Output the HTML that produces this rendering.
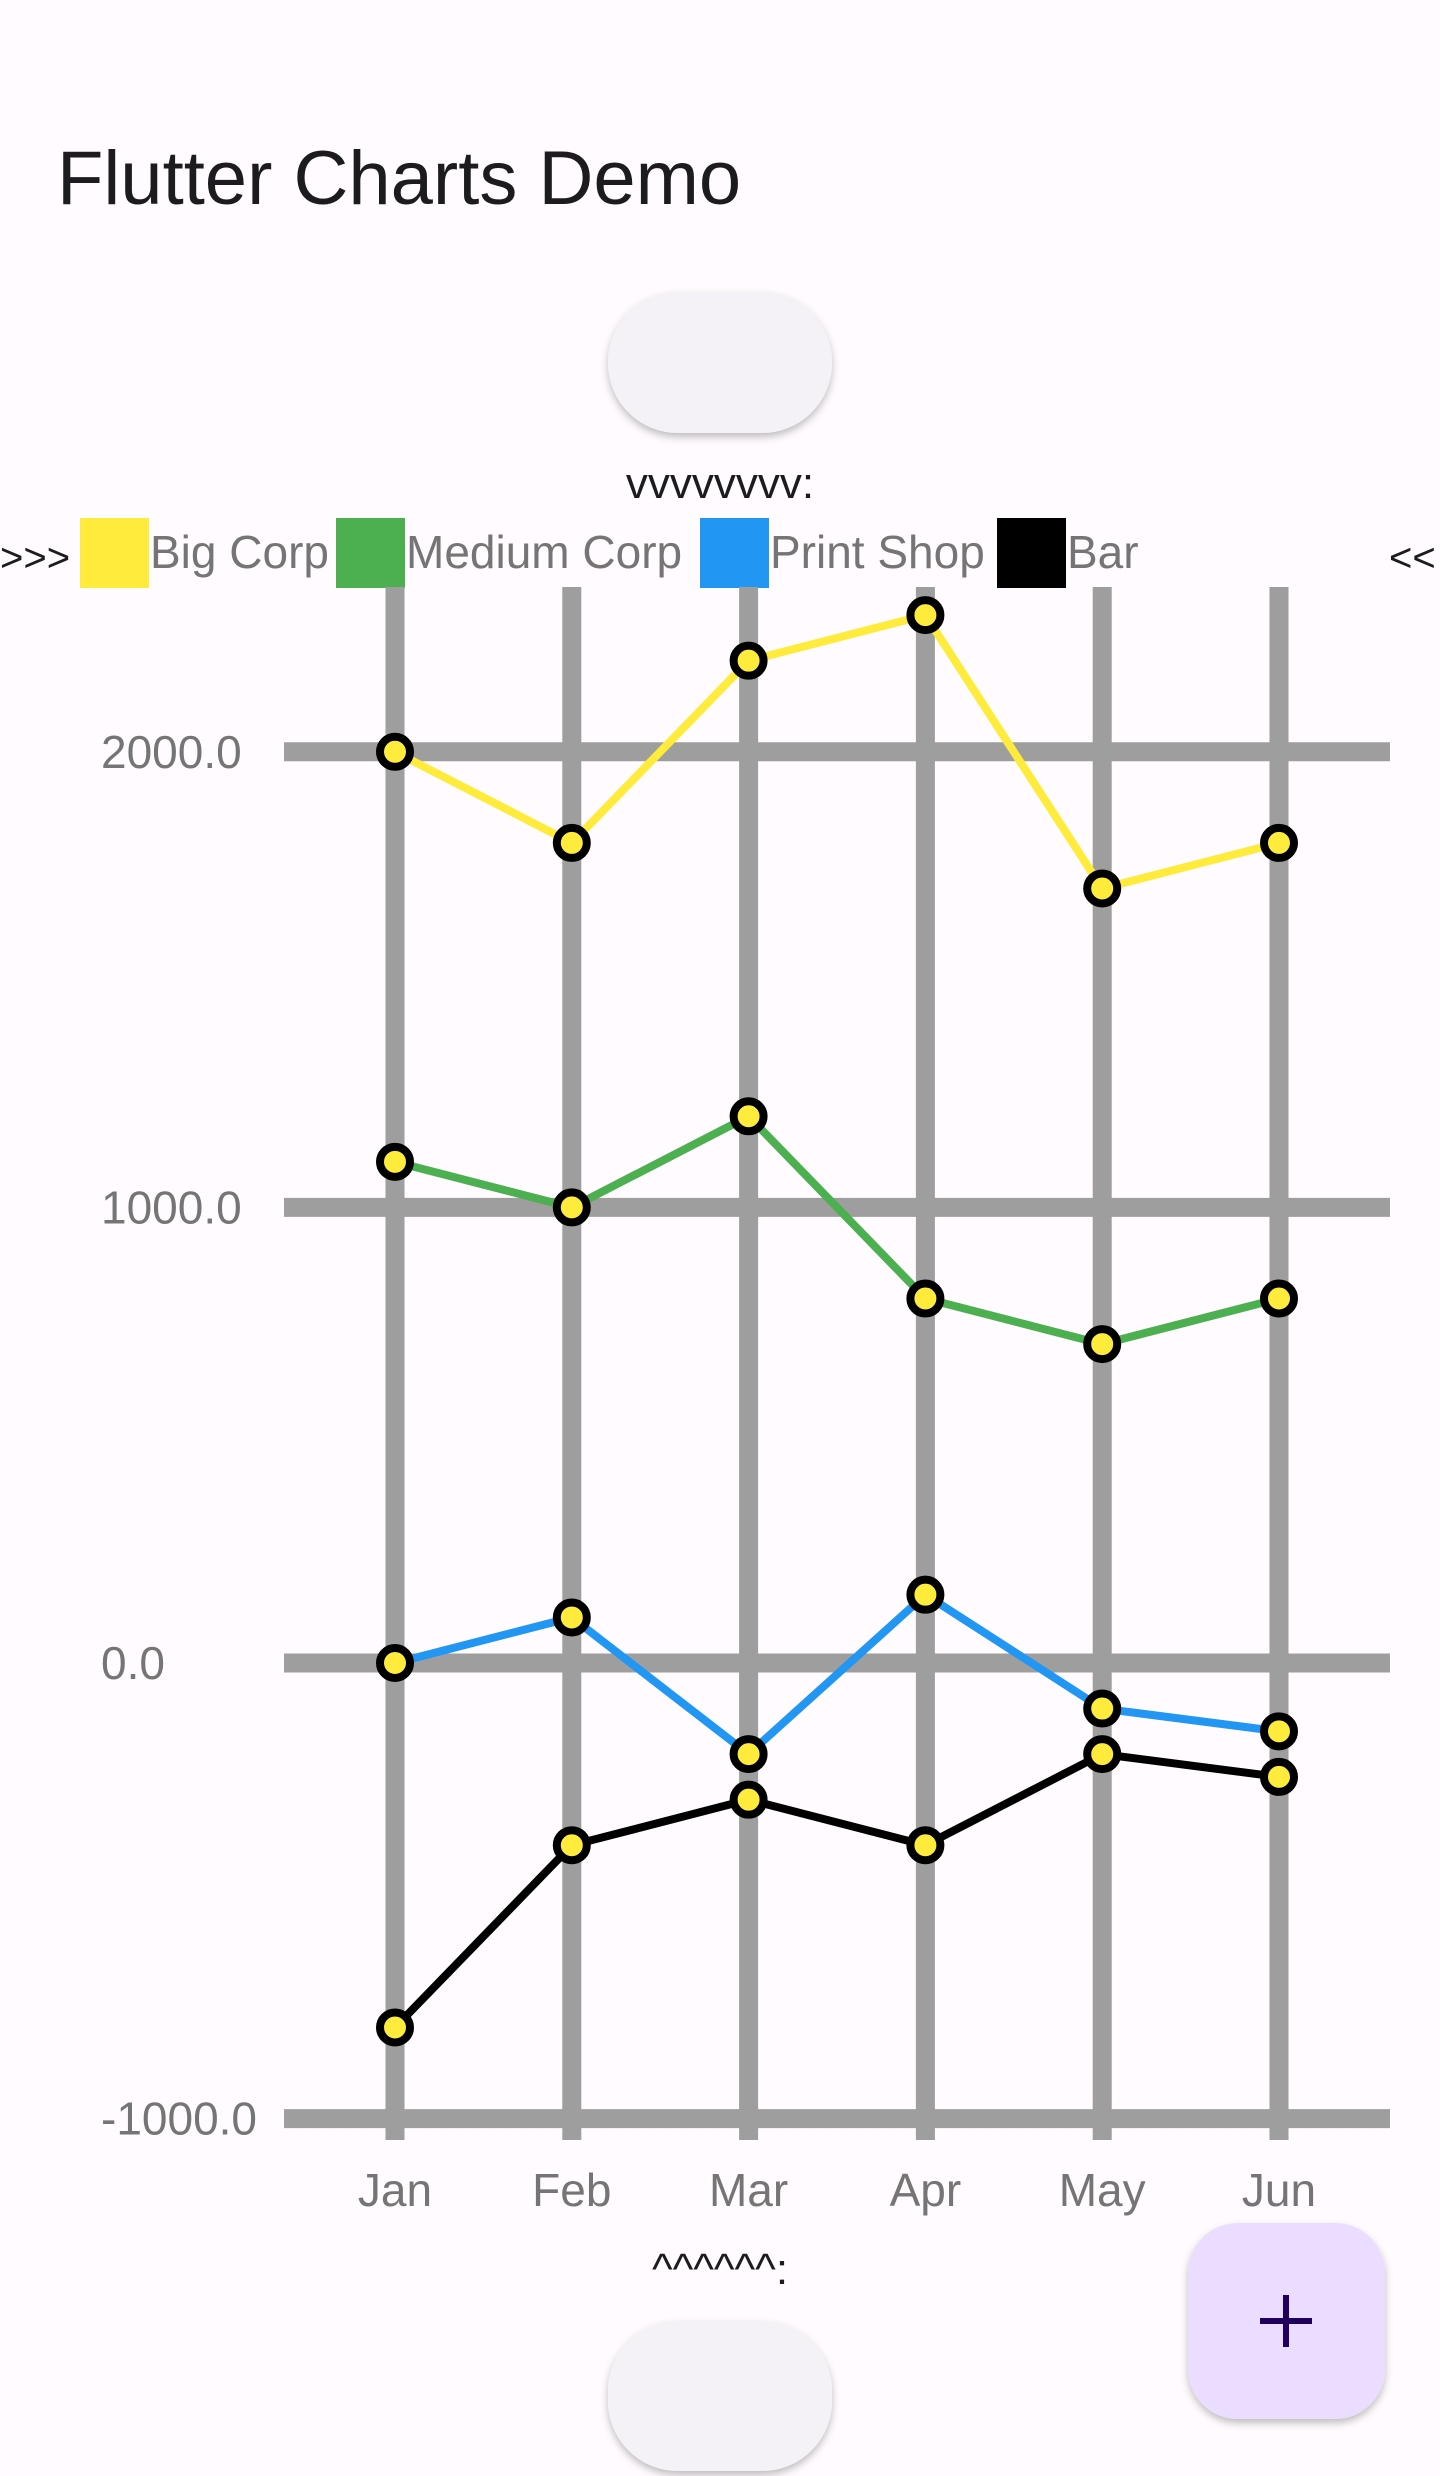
<!DOCTYPE html>
<html><head><meta charset="utf-8">
<style>
html,body{margin:0;padding:0;background:#fffbfe;}
body{width:1440px;height:2476px;overflow:hidden;position:relative;font-family:"Liberation Sans",sans-serif;}
svg{position:absolute;left:0;top:0;}
</style></head>
<body>
<svg id="chart" width="1440" height="2476" viewBox="0 0 1440 2476">
  <defs>
    <filter id="sh" x="-20%" y="-20%" width="140%" height="150%">
      <feDropShadow dx="0" dy="4" stdDeviation="4" flood-color="#000" flood-opacity="0.25"/>
    </filter>
  </defs>
  <rect width="1440" height="2476" fill="#fffbfe"/>
  <text x="57" y="204" font-size="76" fill="#1c1b1f">Flutter Charts Demo</text>
  <rect x="608" y="292" width="224" height="141" rx="70" fill="#f4f1f7" filter="url(#sh)"/>
  <text x="720" y="498" font-size="44" text-anchor="middle" fill="#1c1b1f">vvvvvvvv:</text>
  <g id="legend">
    <text x="0" y="571" font-size="40" fill="#1c1b1f">&gt;&gt;&gt;</text>
    <text x="1389" y="571" font-size="40" fill="#1c1b1f">&lt;&lt;</text>
  </g>
  <g id="grid"></g>
  <g id="axes"></g>
  <g id="series"></g>
  <text x="720" y="2284" font-size="44" text-anchor="middle" fill="#1c1b1f">^^^^^^:</text>
  <rect x="608" y="2321" width="224" height="150" rx="70" fill="#f4f1f7" filter="url(#sh)"/>
  <g>
    <rect x="1188" y="2223" width="197" height="196" rx="50" fill="#eaddff" filter="url(#sh)"/>
    <path d="M1286 2295 V2347 M1260 2321 H1312" stroke="#21005d" stroke-width="6"/>
  </g>
</svg>
<script>
const categories = ["Jan","Feb","Mar","Apr","May","Jun"];
const seriesNames = ["Big Corp","Medium Corp","Print Shop","Bar"];
const seriesColors = ["#ffeb3b","#4caf50","#2196f3","#000000"];
const bigCorp = [2000,1800,2200,2300,1700,1800];
const mediumCorp = [1100,1000,1200,800,700,800];
const printShop = [0,100,-200,150,-100,-150];
const barSeries = [-800,-400,-300,-400,-200,-250];
const yTicks = [-1000,0,1000,2000];
const yTickLabels = ["-1000.0","0.0","1000.0","2000.0"];

const NS = "http://www.w3.org/2000/svg";
function mk(tag, attrs, parent){ const e=document.createElementNS(NS,tag); for(const k in attrs) e.setAttribute(k,attrs[k]); parent.appendChild(e); return e; }
const xScale = i => 395 + i*176.8;
const yScale = v => 1663 - v*0.4556;

const grid = document.getElementById('grid');
const axes = document.getElementById('axes');
yTicks.forEach((t,i)=>{
  const l = mk('line',{x1:284,x2:1390,y1:yScale(t),y2:yScale(t),stroke:'#9e9e9e','stroke-width':19},grid);
  
  
  const tx = mk('text',{x:101,y:yScale(t)+16,'font-size':46,fill:'#757575'},axes);
  tx.textContent = yTickLabels[i];
  
  
});
categories.forEach((c,i)=>{
  const l = mk('line',{x1:xScale(i),x2:xScale(i),y1:587,y2:2140,stroke:'#9e9e9e','stroke-width':19},grid);
  
  
  const tx = mk('text',{x:xScale(i),y:2206,'font-size':46,fill:'#757575','text-anchor':'middle'},axes);
  tx.textContent = c;
  
  
});

const legend = document.getElementById('legend');
const legendX = [80,336,700,997];
seriesNames.forEach((n,i)=>{
  const r = mk('rect',{x:legendX[i],y:518,width:69,height:70,fill:seriesColors[i]},legend);
  
  
  const t = mk('text',{x:legendX[i]+70,y:568,'font-size':46,fill:'#757575'},legend);
  t.textContent = n;
  
  
});

const seriesG = document.getElementById('series');
const allSeries = [bigCorp,mediumCorp,printShop,barSeries];
allSeries.forEach((vals,s)=>{
  const pts = vals.map((v,i)=>xScale(i)+','+yScale(v)).join(' ');
  const pl = mk('polyline',{points:pts,fill:'none',stroke:seriesColors[s],'stroke-width':8,'stroke-linejoin':'round'},seriesG);
  
  
});
allSeries.forEach((vals)=>{
  vals.forEach((v,i)=>{
    const c = mk('circle',{cx:xScale(i),cy:yScale(v),r:15,fill:'#ffeb3b',stroke:'#000','stroke-width':8},seriesG);
    
    
  });
});
</script>
</body></html>
